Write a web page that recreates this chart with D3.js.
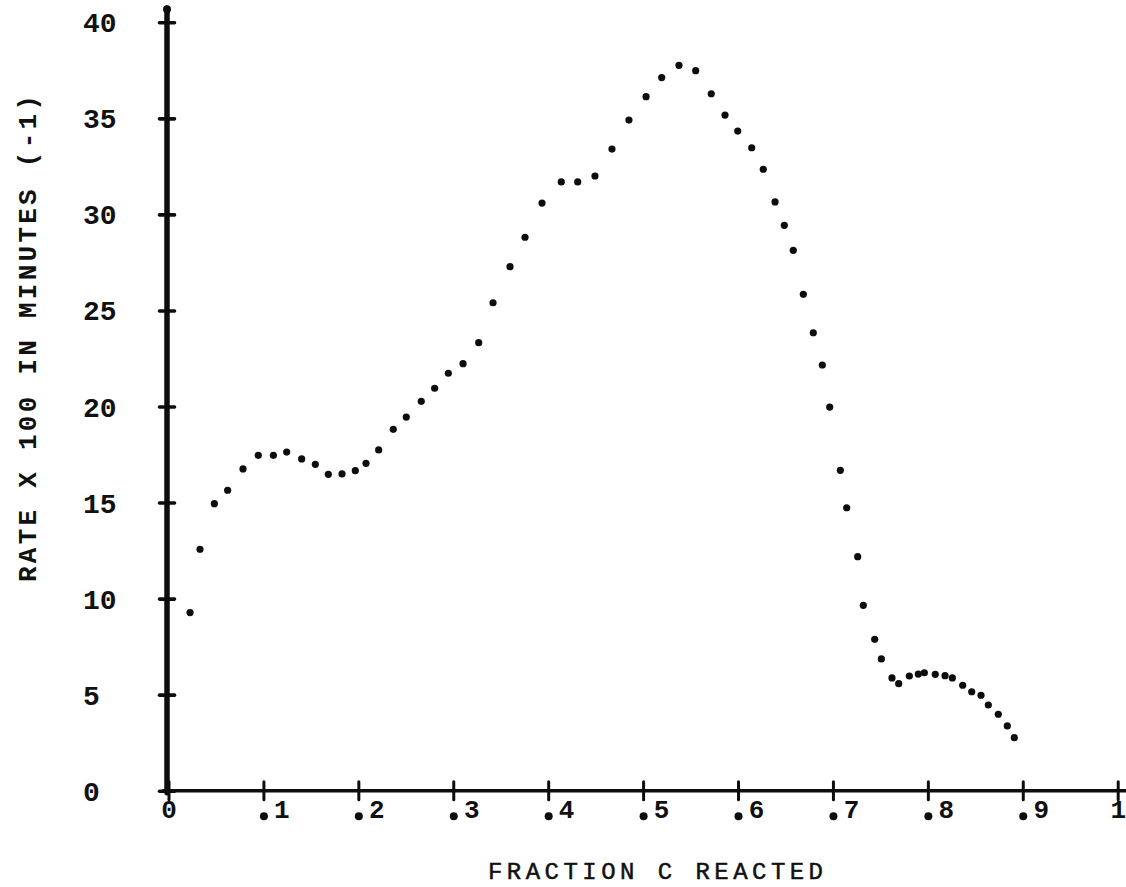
<!DOCTYPE html>
<html>
<head>
<meta charset="utf-8">
<script src="https://cdn.jsdelivr.net/npm/d3@7/dist/d3.min.js"></script>
<style>
  html, body { margin: 0; padding: 0; background: #fff; }
  svg { display: block; }
  text { font-family: "Liberation Mono", "Courier New", monospace; fill: #111; }
</style>
</head>
<body>
<script>
// Fraction of C reacted (x) and rate x 100 in minutes^-1 (y)
const fraction = [
  0.0227, 0.0332, 0.0483, 0.0623, 0.0785, 0.0946, 0.1105, 0.1245, 0.1403, 0.1547,
  0.1684, 0.1828, 0.1968, 0.2081, 0.2214, 0.2368, 0.2505, 0.2663, 0.2804, 0.2948,
  0.3103, 0.3268, 0.3419, 0.3598, 0.3756, 0.3935, 0.4138, 0.4311, 0.4493, 0.4672,
  0.4851, 0.5031, 0.5196, 0.5378, 0.5554, 0.5718, 0.5863, 0.5997, 0.6144, 0.6266,
  0.6390, 0.6488, 0.6582, 0.6688, 0.6793, 0.6888, 0.6966, 0.7078, 0.7145, 0.7261,
  0.7320, 0.7440, 0.7510, 0.7622, 0.7693, 0.7805, 0.7899, 0.7963, 0.8078, 0.8181,
  0.8258, 0.8367, 0.8462, 0.8560, 0.8637, 0.8742, 0.8837, 0.8911
];
const rate = [
  9.27, 12.57, 14.94, 15.64, 16.75, 17.46, 17.46, 17.63, 17.27, 16.99,
  16.47, 16.49, 16.66, 17.04, 17.74, 18.81, 19.45, 20.27, 20.95, 21.73,
  22.23, 23.32, 25.40, 27.28, 28.81, 30.59, 31.69, 31.69, 32.00, 33.40,
  34.91, 36.13, 37.12, 37.76, 37.48, 36.28, 35.17, 34.34, 33.47, 32.35,
  30.65, 29.43, 28.13, 25.84, 23.84, 22.16, 19.97, 16.68, 14.73, 12.18,
  9.65, 7.88, 6.86, 5.87, 5.57, 5.97, 6.07, 6.14, 6.06, 5.99,
  5.87, 5.49, 5.15, 4.97, 4.46, 3.98, 3.37, 2.76
];

const xTicks = [0, 0.1, 0.2, 0.3, 0.4, 0.5, 0.6, 0.7, 0.8, 0.9, 1];
const xTickLabels = ["0", ".1", ".2", ".3", ".4", ".5", ".6", ".7", ".8", ".9", "1"];
const yTicks = [0, 5, 10, 15, 20, 25, 30, 35, 40];
const yTickLabels = ["0", "5", "10", "15", "20", "25", "30", "35", "40"];

const xTitle = "FRACTION C REACTED";
const yTitle = "RATE X 100 IN MINUTES (-1)";

const W = 1126, H = 887;
const svg = d3.select("body").append("svg").attr("width", W).attr("height", H);

const x = d3.scaleLinear().domain([0, 1]).range([168.5, 1117.7]);
const y = d3.scaleLinear().domain([0, 40]).range([790.7, 22.3]);

const ink = "#0d0d0d";

// ---- x axis ----
const xAxis = d3.axisBottom(x).tickValues(xTicks).tickSize(0).tickFormat("");
const gx = svg.append("g").attr("transform", `translate(0,${y(0)})`).call(xAxis);
gx.select(".domain").remove();
gx.append("line")
  .attr("x1", x(0) - 6).attr("x2", W)
  .attr("stroke", ink).attr("stroke-width", 3.6);
gx.selectAll(".tick line")
  .attr("y1", -9).attr("y2", 9)
  .attr("stroke", ink).attr("stroke-width", 3).attr("stroke-linecap", "round");
gx.selectAll(".tick").each(function (d, i) {
  const g = d3.select(this);
  const lab = xTickLabels[i];
  if (lab.startsWith(".")) {
    g.append("circle").attr("cx", 0).attr("cy", 25.5).attr("r", 4).attr("fill", ink);
    g.append("text").attr("x", 18).attr("y", 27.5)
      .attr("text-anchor", "middle").attr("font-size", 26).attr("font-weight", "bold")
      .text(lab.slice(1));
  } else {
    g.append("text").attr("x", 0).attr("y", 27.5)
      .attr("text-anchor", "middle").attr("font-size", 26).attr("font-weight", "bold")
      .text(lab);
  }
});

// ---- y axis ----
const yAxis = d3.axisLeft(y).tickValues(yTicks).tickSize(0).tickFormat("");
const gy = svg.append("g").attr("transform", `translate(${x(0) - 1.5},0)`).call(yAxis);
gy.select(".domain").remove();
gy.append("line")
  .attr("y1", y(40) - 14).attr("y2", y(0) + 2)
  .attr("stroke", ink).attr("stroke-width", 5.5).attr("stroke-linecap", "round");
gy.append("circle").attr("cx", 0).attr("cy", y(40) - 13).attr("r", 4).attr("fill", ink);
gy.selectAll(".tick line")
  .attr("x1", -7.5).attr("x2", 7.5)
  .attr("stroke", ink).attr("stroke-width", 3.6).attr("stroke-linecap", "round");
gy.selectAll(".tick").append("text")
  .attr("x", 83 - (x(0) - 1.5)).attr("y", 0).attr("dy", "0.34em")
  .attr("text-anchor", "start").attr("font-size", 28).attr("font-weight", "bold")
  .text((d, i) => yTickLabels[i]);

// ---- data points ----
const pts = fraction.map((f, i) => ({ f, r: rate[i] }));
svg.append("g").selectAll("circle").data(pts).join("circle")
  .attr("cx", d => x(d.f))
  .attr("cy", d => y(d.r))
  .attr("r", 3.6)
  .attr("fill", ink);

// ---- titles ----
svg.append("text")
  .attr("x", 488).attr("y", 879)
  .attr("font-size", 24)
  .attr("stroke", "#111").attr("stroke-width", 0.5)
  .attr("textLength", 335).attr("lengthAdjust", "spacing")
  .text(xTitle);

svg.append("text")
  .attr("transform", "translate(35.5,582) rotate(-90)")
  .attr("font-size", 26).attr("font-weight", "bold")
  .attr("textLength", 487).attr("lengthAdjust", "spacing")
  .text(yTitle);
</script>
</body>
</html>
